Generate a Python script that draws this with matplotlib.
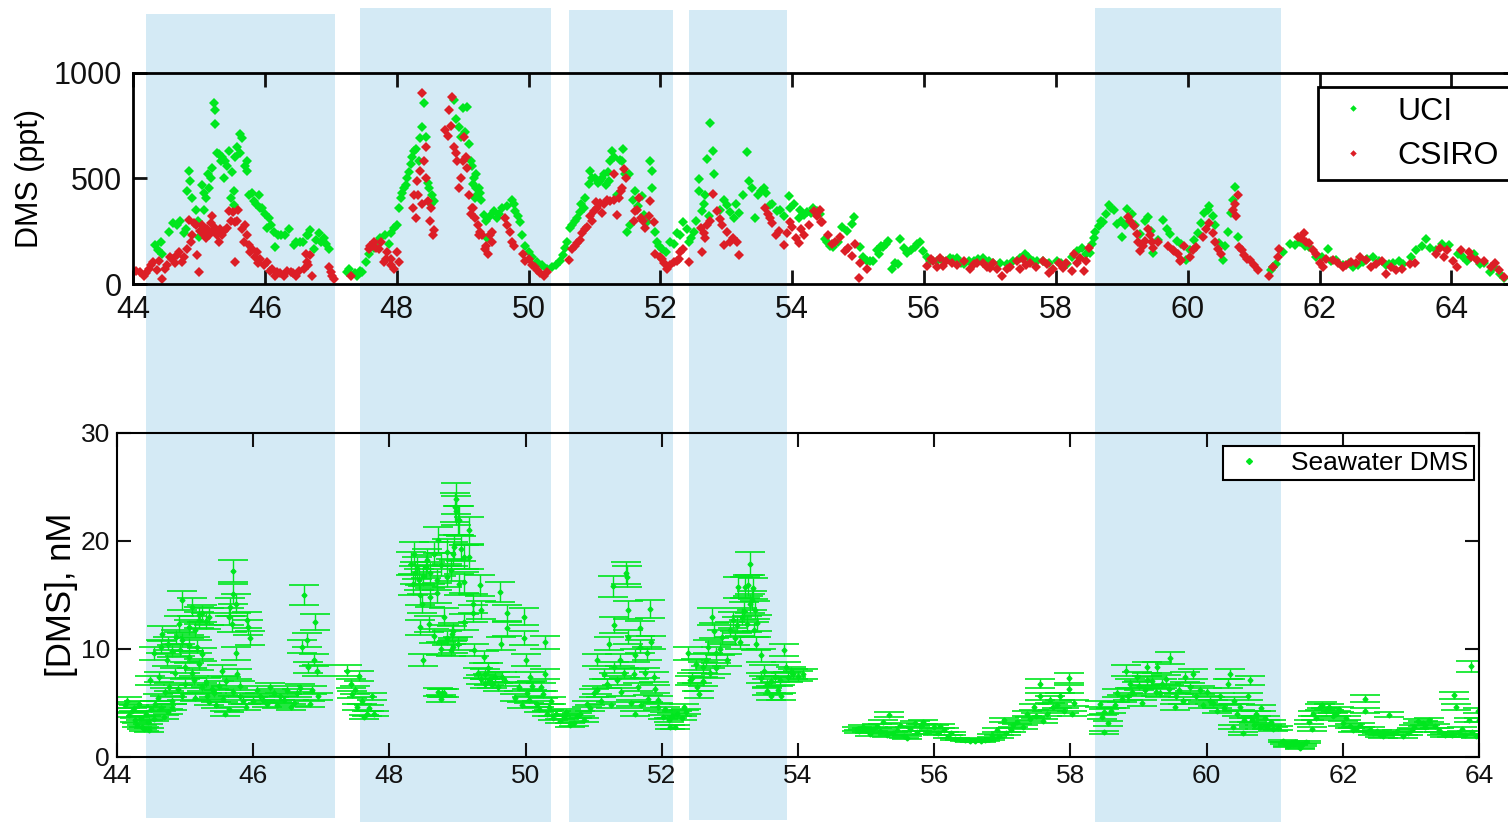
import matplotlib
matplotlib.use("Agg")
import matplotlib.pyplot as plt
from matplotlib.lines import Line2D
from matplotlib.patches import Rectangle
from matplotlib.transforms import blended_transform_factory

plt.rcParams['font.family'] = ['Liberation Sans', 'DejaVu Sans']

# --- top panel: atmospheric DMS (ppt) vs day of year ---
uci_day = [
    44.34, 44.44, 44.54, 44.67, 44.77, 44.85, 44.87, 44.90, 44.95, 45.00, 45.07, 45.11,
    45.15, 45.14, 45.20, 45.23, 45.25, 45.25, 45.30, 45.33, 45.38, 45.40, 45.45, 45.48,
    45.53, 45.55, 45.58, 45.63, 45.53, 45.73, 45.73, 45.76, 45.83, 45.91, 45.93, 46.06,
    46.03, 46.14, 46.16, 46.24, 46.44, 46.54, 46.64, 46.69, 46.74, 46.85, 46.90, 46.97,
    47.25, 47.40, 47.48, 47.53, 47.71, 47.83, 47.96, 48.01, 48.04, 48.06, 48.11, 48.16,
    48.21, 48.26, 48.34, 48.39, 48.42, 48.44, 48.49, 48.54, 48.57, 48.87, 48.94, 48.97,
    49.00, 49.07, 49.10, 49.12, 49.20, 49.25,
    49.16, 49.21, 49.26, 49.19, 49.32, 49.37, 49.47, 49.52, 49.75, 49.80, 49.87, 49.90,
    50.00, 50.13, 50.28, 50.41, 50.53, 50.58, 50.63, 50.73, 50.84, 50.86, 50.91, 50.94,
    51.01, 51.09, 51.14, 51.22, 51.24, 51.27, 51.34, 51.42, 51.44, 51.47, 51.49, 51.54,
    51.62, 51.72, 51.75, 51.80, 51.85, 51.87, 51.87, 51.92, 51.95, 52.03, 52.15, 52.30,
    52.35, 52.43, 52.51, 52.58, 52.58, 52.63, 52.68, 52.71, 52.75, 52.80, 52.82, 53.01,
    53.11, 53.19, 53.32, 53.34, 53.39, 53.44, 53.52, 53.57, 53.67, 53.77, 53.95, 53.97,
    54.10, 54.18, 54.28, 54.38, 54.53,
    54.50, 54.62, 54.83, 54.90, 54.93, 55.03, 55.13, 55.23, 55.31, 55.38, 55.46, 55.51,
    55.61, 55.64, 55.74, 55.86, 55.94, 55.99, 56.09, 56.29, 56.39, 56.50, 56.60, 56.75,
    56.90, 57.05, 57.26, 57.46, 57.53, 57.66, 57.81, 58.02, 58.17, 58.32, 58.52, 58.55,
    58.60, 58.65, 58.72, 58.80, 58.88, 58.93, 59.00, 59.08, 59.15, 59.28, 59.40, 59.48,
    59.63, 59.73, 59.84,
    59.97, 60.10, 60.15, 60.20, 60.25, 60.33, 60.38, 60.48, 60.53, 60.61, 60.66, 60.72,
    60.76, 61.27, 61.34, 61.62, 61.84, 61.95, 62.13, 62.25, 62.51, 62.66, 62.81, 63.06,
    63.27, 63.47, 63.62, 63.77, 63.97, 64.18, 64.43, 64.58, 64.73,
    44.38, 44.42, 44.60, 44.72, 44.80, 44.82, 44.98, 45.04, 45.08, 45.18, 45.28, 45.35,
    45.42, 45.50, 45.62, 45.66, 45.70, 45.80, 45.86, 45.96, 46.00, 46.10, 46.20, 46.30,
    46.36, 46.48, 46.58, 46.66, 46.78, 46.82, 46.93, 47.28, 47.36, 47.44, 47.58, 47.65,
    47.75, 47.88, 47.92, 48.08, 48.14, 48.18, 48.23, 48.30, 48.36, 48.47, 48.52, 48.90,
    49.04, 49.14, 49.17, 49.22, 49.28, 49.35, 49.42, 49.55, 49.60, 49.68, 49.78, 49.84,
    49.95, 50.05, 50.20, 50.35, 50.48, 50.56, 50.66, 50.70, 50.78, 50.80, 50.97, 51.05,
    51.12, 51.18, 51.20, 51.30, 51.38, 51.52, 51.58, 51.66, 51.78, 51.98, 52.08, 52.20,
    52.25, 52.40, 52.46, 52.54, 52.66, 52.74, 52.90, 52.97, 53.05, 53.15, 53.25, 53.48,
    53.60, 53.70, 53.82, 53.88, 54.02, 54.12, 54.22, 54.32, 54.42, 54.58, 54.70, 54.76,
    55.08, 55.18, 55.28, 55.34, 55.43, 55.56, 55.70, 55.80, 55.90, 56.04, 56.20, 56.44,
    56.56, 56.68, 56.82, 56.98, 57.15, 57.35, 57.58, 57.72, 57.90, 58.08, 58.25, 58.40,
    58.45, 58.58, 58.68, 58.76, 58.84, 58.98, 59.05, 59.20, 59.35, 59.45, 59.55, 59.68,
    59.90, 60.04, 60.30, 60.42, 60.57, 60.68, 61.30, 61.45, 61.55, 61.70, 61.78, 62.04,
    62.18, 62.36, 62.45, 62.58, 62.72, 62.90, 63.00, 63.12, 63.20, 63.38, 63.55, 63.68,
    63.86, 63.92, 64.10, 64.24, 64.34, 64.50, 64.64, 64.80,
]
uci_dms = [
    184, 144, 248, 280, 240, 536, 488, 408, 352, 224, 352, 408,
    456, 520, 552, 856, 824, 760, 616, 584, 504, 584, 632, 408,
    440, 600, 648, 712, 376, 584, 536, 424, 392, 424, 360, 312,
    264, 248, 176, 232, 184, 200, 232, 256, 168, 200, 216, 168,
    56, 40, 56, 104, 200, 232, 264, 280, 360, 408, 456, 504,
    568, 632, 584, 744, 856, 696, 456, 424, 392, 872, 744, 696,
    832, 840, 664, 584, 520, 456,
    472, 456, 432, 408, 328, 216, 344, 312, 400, 344, 296, 232,
    152, 104, 72, 88, 136, 200, 264, 312, 360, 408, 472, 536,
    504, 488, 520, 488, 584, 632, 424, 584, 640, 520, 248, 280,
    440, 416, 328, 296, 584, 536, 456, 248, 200, 168, 200, 232,
    296, 200, 248, 440, 496, 344, 424, 592, 763, 632, 520, 376,
    312, 336, 624, 488, 456, 312, 440, 456, 376, 344, 416, 360,
    312, 328, 336, 344, 200,
    213, 173, 253, 285, 317, 173, 109, 109, 141, 173, 205, 69,
    93, 213, 149, 173, 197, 157, 109, 109, 125, 125, 93, 109,
    125, 101, 93, 125, 141, 109, 109, 109, 93, 157, 149, 189,
    245, 277, 293, 373, 349, 285, 221, 357, 333, 237, 317, 149,
    301, 237, 205,
    112, 208, 240, 288, 336, 368, 320, 192, 112, 248, 336, 459,
    224, 64, 96, 184, 176, 128, 168, 112, 80, 104, 128, 96,
    96, 160, 213, 160, 184, 128, 96, 56, 48,
    160, 200, 290, 300, 260, 440, 300, 470, 430, 500, 620, 600,
    560, 530, 620, 690, 560, 430, 380, 360, 330, 280, 230, 230,
    260, 200, 200, 230, 210, 240, 190, 70, 50, 60, 140, 170,
    220, 190, 240, 430, 470, 530, 600, 640, 690, 480, 380, 780,
    720, 560, 500, 420, 400, 300, 320, 330, 360, 370, 380, 320,
    180, 130, 90, 80, 110, 170, 280, 300, 340, 380, 500, 480,
    500, 470, 530, 600, 590, 520, 400, 370, 300, 180, 150, 190,
    240, 260, 220, 300, 380, 320, 350, 400, 340, 380, 420, 420,
    430, 380, 350, 320, 380, 350, 340, 360, 330, 180, 200, 270,
    130, 110, 160, 180, 190, 100, 170, 160, 190, 130, 110, 120,
    100, 110, 120, 110, 100, 110, 130, 110, 100, 100, 130, 170,
    140, 220, 300, 330, 360, 300, 280, 280, 300, 250, 210, 260,
    190, 160, 350, 280, 180, 400, 80, 150, 190, 200, 180, 130,
    110, 90, 100, 90, 120, 110, 90, 100, 110, 130, 180, 170,
    190, 170, 140, 110, 140, 100, 80, 30,
]

csiro_day = [
    44.11, 44.16, 44.24, 44.31, 44.36, 44.44, 44.52, 44.59, 44.67, 44.74, 44.82, 44.85,
    44.90, 44.95, 44.97, 45.00, 45.05, 45.10, 45.15, 45.20, 45.25, 45.30, 45.35, 45.43,
    45.45, 45.55, 45.55, 45.60, 45.70, 45.76, 45.81, 45.88, 45.93, 46.03, 46.11, 46.19,
    46.29, 46.39, 46.47, 46.59, 46.64, 46.69, 46.72, 47.00, 47.05, 47.30, 47.58, 47.66,
    47.73, 47.81, 47.86, 47.91, 47.96, 48.04, 48.24, 48.26, 48.29, 48.31, 48.36, 48.39,
    48.42, 48.44, 48.47, 48.52, 48.57, 48.74, 48.79, 48.84, 48.87, 48.92, 48.95, 49.00,
    49.02, 49.07, 49.15, 49.25,
    49.16, 49.19, 49.24, 49.27, 49.34, 49.39, 49.44, 49.44, 49.65, 49.72, 49.75, 49.92,
    50.00, 50.05, 50.13, 50.23, 50.28, 50.61, 50.66, 50.73, 50.81, 50.89, 50.94, 50.99,
    51.04, 51.09, 51.11, 51.19, 51.24, 51.29, 51.34, 51.37, 51.42, 51.45, 51.62, 51.67,
    51.70, 51.77, 51.85, 51.90, 51.92, 52.03, 52.10, 52.20, 52.28, 52.35, 52.43, 52.61,
    52.63, 52.68, 52.71, 52.80, 52.86, 52.94, 52.96, 53.01, 53.06, 53.16, 53.19, 53.59,
    53.67, 53.75, 53.87, 53.97, 54.05, 54.10, 54.18, 54.33, 54.43,
    54.42, 54.45, 54.65, 54.72, 54.80, 54.90, 54.95, 55.03, 55.02, 55.13, 56.04, 56.14,
    56.24, 56.29, 56.42, 56.75, 56.90, 57.00, 57.10, 57.18, 57.26, 57.41, 57.61, 57.86,
    57.89, 58.11, 58.24, 58.27, 58.37, 58.42, 58.45, 59.10, 59.18, 59.23, 59.28, 59.35,
    59.40, 59.46, 59.79, 59.89,
    59.77, 59.90, 60.03, 60.13, 60.23, 60.33, 60.38, 60.46, 60.68, 60.73, 60.76, 60.78,
    60.86, 60.94, 61.06, 61.24, 61.37, 61.39, 61.67, 61.77, 61.84, 61.95, 62.05, 62.20,
    62.35, 62.48, 62.71, 62.86, 63.01, 63.16, 63.37, 63.77, 63.93, 64.08, 64.26, 64.39,
    64.72, 64.80,
    44.05, 44.20, 44.28, 44.40, 44.48, 44.56, 44.63, 44.70, 44.78, 44.88, 44.92, 45.02,
    45.08, 45.12, 45.18, 45.22, 45.28, 45.32, 45.38, 45.48, 45.52, 45.58, 45.65, 45.68,
    45.73, 45.78, 45.85, 45.90, 45.98, 46.08, 46.15, 46.23, 46.33, 46.43, 46.52, 46.62,
    46.66, 46.98, 47.02, 47.60, 47.68, 47.76, 47.84, 47.92, 48.00, 48.33, 48.38, 48.45,
    48.50, 48.55, 48.78, 48.82, 48.90, 48.97, 49.05, 49.10, 49.12, 49.30, 49.36, 49.42,
    49.68, 49.78, 49.95, 50.10, 50.18, 50.70, 50.78, 50.86, 50.96, 51.02, 51.14, 51.30,
    51.40, 51.48, 51.60, 51.65, 51.74, 51.82, 52.00, 52.06, 52.14, 52.25, 52.30, 52.66,
    52.75, 52.90, 53.10, 53.63, 53.70, 53.80, 53.92, 54.00, 54.14, 54.25, 54.38, 54.55,
    54.60, 54.85, 56.10, 56.20, 56.34, 56.50, 56.60, 56.70, 56.80, 56.95, 57.05, 57.30,
    57.45, 57.50, 57.55, 57.70, 57.80, 57.95, 58.05, 58.15, 58.32, 58.50, 59.12, 59.25,
    59.32, 59.43, 59.48, 59.55, 59.70, 59.85, 59.95, 60.08, 60.28, 60.42, 60.50, 60.72,
    60.82, 60.90, 61.00, 61.30, 61.72, 61.80, 61.90, 62.00, 62.10, 62.28, 62.40, 62.55,
    62.62, 62.78, 62.95, 63.08, 63.25, 63.45, 63.82, 63.88, 64.02, 64.15, 64.30, 64.50,
    64.60, 64.66,
]
csiro_dms = [
    56, 40, 72, 104, 64, 24, 88, 120, 136, 104, 168, 304,
    232, 280, 136, 56, 280, 216, 232, 320, 264, 200, 232, 264,
    344, 296, 104, 352, 280, 184, 168, 152, 120, 104, 72, 56,
    40, 56, 40, 72, 104, 136, 40, 56, 24, 40, 168, 200,
    168, 104, 152, 120, 72, 104, 360, 424, 312, 488, 536, 904,
    584, 648, 392, 360, 256, 728, 824, 888, 648, 584, 456, 584,
    696, 552, 360, 232,
    360, 312, 280, 248, 168, 144, 248, 200, 312, 248, 200, 144,
    120, 88, 64, 40, 56, 112, 168, 192, 240, 272, 320, 344,
    360, 384, 336, 400, 392, 520, 328, 408, 456, 544, 344, 408,
    312, 264, 392, 296, 144, 120, 72, 104, 120, 168, 104, 264,
    152, 216, 280, 427, 344, 280, 184, 248, 200, 200, 136, 360,
    312, 232, 184, 296, 216, 192, 232, 344, 296,
    349, 293, 197, 221, 157, 133, 189, 101, 29, 69, 85, 109,
    125, 85, 101, 93, 101, 77, 69, 37, 69, 109, 101, 93,
    53, 77, 61, 141, 125, 61, 109, 317, 277, 237, 157, 205,
    261, 197, 157, 109,
    160, 112, 128, 176, 224, 288, 240, 168, 352, 320, 424, 176,
    136, 112, 64, 40, 128, 168, 224, 240, 192, 144, 80, 112,
    80, 104, 112, 96, 48, 64, 96, 144, 160, 80, 152, 112,
    64, 32,
    60, 50, 90, 110, 70, 130, 100, 150, 130, 200, 290, 250,
    230, 260, 290, 250, 230, 260, 250, 300, 340, 300, 260, 200,
    230, 150, 130, 100, 90, 60, 40, 50, 60, 50, 60, 140,
    90, 80, 40, 180, 170, 200, 120, 90, 150, 420, 380, 500,
    300, 230, 700, 750, 620, 500, 600, 420, 330, 230, 180, 230,
    280, 180, 110, 80, 50, 180, 210, 260, 300, 390, 380, 400,
    440, 500, 300, 350, 300, 320, 130, 100, 90, 110, 150, 240,
    300, 310, 220, 330, 290, 250, 240, 270, 260, 280, 320, 230,
    190, 170, 120, 80, 110, 90, 110, 70, 100, 80, 100, 80,
    70, 120, 90, 80, 110, 70, 100, 100, 100, 170, 300, 200,
    180, 230, 170, 200, 180, 140, 180, 160, 260, 200, 140, 380,
    160, 120, 90, 80, 220, 200, 160, 100, 120, 100, 90, 100,
    130, 80, 110, 80, 70, 100, 170, 130, 110, 160, 130, 110,
    80, 100,
]

# --- bottom panel: seawater DMS (nM) ---
sw_day = [
    44.15, 44.22, 44.27, 44.32, 44.37, 44.42, 44.47, 44.49, 44.54, 44.56, 44.61, 44.64,
    44.66, 44.69, 44.73, 44.76, 44.81, 44.86, 44.91, 44.93, 44.95, 45.00, 45.05, 45.10,
    45.13, 45.17, 45.20, 45.25, 45.32, 45.42, 45.54, 45.59, 45.64, 45.66, 45.69, 45.71,
    45.71, 45.74, 45.74, 45.76, 45.81, 45.91, 45.93, 45.96, 46.00, 46.10, 46.20, 46.30,
    46.40, 46.50, 46.55, 46.64, 46.72, 46.75, 46.79, 46.81, 46.84, 46.86, 46.89, 46.91,
    46.94, 47.37, 47.43, 47.50, 47.52, 47.62, 47.67, 47.74, 47.77,
    48.31, 48.36, 48.38, 48.43, 48.45, 48.48, 48.50, 48.53, 48.58, 48.60, 48.65, 48.70,
    48.72, 48.75, 48.77, 48.80, 48.85, 48.90, 48.92, 48.94, 48.97, 48.98, 49.02,
    48.98, 49.00, 48.95, 49.10, 49.17, 49.17, 49.02, 48.93, 48.93, 49.22, 49.22, 49.24,
    49.33, 49.34, 49.39, 49.41, 49.46, 49.51, 49.63, 49.66, 49.64, 49.73, 49.73, 49.98,
    49.98, 50.00, 50.02, 50.07, 50.17, 50.22, 50.29, 50.29, 50.32, 50.37, 50.44, 50.56,
    50.71, 50.80, 50.90, 51.00, 51.05, 51.15, 51.22, 51.28, 51.30, 51.34, 51.39, 51.48,
    51.49, 51.50, 51.51, 51.59, 51.61, 51.68, 51.68, 51.78, 51.83, 51.84, 51.88, 51.95,
    52.02, 52.12, 52.22, 52.32, 52.39, 52.41, 52.51, 52.61, 52.68, 52.73, 52.76, 52.80,
    52.88, 53.05, 53.07, 53.12, 53.17, 53.22, 53.26, 53.29, 53.32, 53.34, 53.37, 53.39,
    53.46, 53.54, 53.61, 53.66, 53.73, 53.80, 53.83, 53.93, 54.07,
    54.86, 55.01, 55.16, 55.33, 55.40, 55.55, 55.72, 55.84, 55.99, 56.09, 56.24, 56.38,
    56.53, 56.68, 56.82, 56.92, 57.02, 57.12, 57.22, 57.36, 57.46, 57.55, 57.56, 57.66,
    57.75, 57.85, 57.98, 57.98, 58.02, 58.44, 58.47, 58.49, 58.59, 58.69, 58.81, 58.88,
    58.98, 59.13, 59.27,
    59.12, 59.32, 59.46, 59.54, 59.68, 59.80, 59.90, 60.05, 60.15, 60.32, 60.34, 60.39,
    60.49, 60.54, 60.63, 60.66, 60.73, 60.78, 60.88, 60.98, 61.12, 61.27, 61.37, 61.46,
    61.56, 61.66, 61.76, 61.90, 62.00, 62.15, 62.32, 62.32, 62.44, 62.59, 62.68, 62.73,
    62.88, 63.02, 63.17, 63.27, 63.41, 63.63, 63.66, 63.71, 63.85, 63.88, 63.95, 64.00,
    44.12, 44.18, 44.25, 44.30, 44.35, 44.40, 44.45, 44.50, 44.55, 44.60, 44.65, 44.70,
    44.75, 44.80, 44.85, 44.90, 44.95, 45.00, 45.05, 45.10, 45.15, 45.20, 45.25, 45.30,
    45.35, 45.40, 45.45, 45.50, 45.55, 45.60, 45.65, 45.70, 45.80, 45.85, 45.90, 46.05,
    46.15, 46.25, 46.35, 46.45, 46.60, 46.68, 46.95, 47.45, 47.55, 47.70, 47.60,
    44.75, 44.80, 44.95, 45.05, 45.15, 45.20, 45.25, 45.30, 45.35,
    48.35, 48.40, 48.45, 48.50, 48.55, 48.60, 48.70, 48.75, 48.80, 48.85, 48.90, 49.05,
    49.10, 48.75, 48.72, 48.85, 49.00, 49.10, 48.65,
    49.30, 49.35, 49.40, 49.45, 49.55, 49.60, 49.70, 49.85, 49.90, 49.95, 50.05, 50.10,
    50.20, 50.25, 50.35, 50.40,
    50.50, 50.60, 50.65, 50.75, 50.85, 50.95, 51.05, 51.10, 51.20, 51.25, 51.30, 51.40,
    51.45, 51.55, 51.60, 51.65, 51.70, 51.75, 51.80, 51.90, 51.95, 52.05, 52.10, 52.15,
    52.20, 52.30, 52.35,
    52.45, 52.50, 52.55, 52.60, 52.65, 52.70, 52.80, 52.85, 52.95, 53.00, 53.10, 53.15,
    53.20, 53.25, 53.30, 53.35, 53.40, 53.45, 53.50, 53.55, 53.60, 53.70, 53.75, 53.85,
    53.90, 54.00,
    54.90, 54.95, 55.05, 55.10, 55.20, 55.25, 55.30, 55.45, 55.50, 55.60, 55.65, 55.75,
    55.80, 55.90, 56.05, 56.15, 56.20, 56.30, 56.45, 56.60, 56.75, 56.85, 56.95, 57.05,
    57.15, 57.30, 57.40, 57.50, 57.60, 57.70, 57.80, 57.90, 58.05,
    58.50, 58.55, 58.65, 58.75, 58.85, 58.90, 59.00, 59.05, 59.10, 59.20, 59.25, 59.35,
    59.40, 59.45, 59.55, 59.60, 59.65, 59.75, 59.85, 59.95, 60.00, 60.10, 60.20, 60.25,
    60.40, 60.45, 60.55, 60.60, 60.70, 60.80, 60.85, 60.95, 61.05,
    61.15, 61.20, 61.30, 61.40, 61.50, 61.55, 61.60, 61.70, 61.80, 61.85, 61.95, 62.05,
    62.10, 62.20, 62.25, 62.40, 62.50, 62.55, 62.65, 62.80, 62.95, 63.05, 63.10, 63.20,
    63.35, 63.45, 63.50, 63.60, 63.75, 63.80, 63.90, 63.98,
]
sw_dms = [
    5.2, 4.3, 3.4, 4.9, 2.8, 4.0, 2.5, 7.1, 9.6, 4.9, 7.4, 10.2,
    11.4, 3.7, 9.0, 6.5, 4.6, 11.1, 12.3, 9.9, 14.5, 8.3, 12.0, 13.9,
    7.1, 10.2, 12.7, 6.5, 5.6, 5.9, 8.0, 4.0, 13.0, 13.9, 12.3, 17.2,
    15.1, 14.2, 9.6, 7.7, 5.6, 12.7, 12.0, 11.0, 5.2, 5.6, 4.9, 5.9,
    5.6, 6.2, 4.6, 5.9, 10.2, 15.0, 10.8, 8.3, 4.9, 6.2, 9.0, 12.5,
    8.0, 8.0, 6.8, 6.2, 4.6, 3.7, 4.0, 5.6, 4.0,
    17.9, 18.8, 17.0, 16.4, 12.0, 14.2, 9.0, 17.6, 12.3, 14.8, 18.8, 16.4,
    20.1, 10.0, 5.9, 5.9, 16.7, 9.9, 11.4, 18.8, 23.1, 23.9, 21.9,
    22.8, 21.9, 19.4, 18.5, 21.0, 18.5, 16.0, 11.7, 10.2, 14.2, 13.3, 9.9,
    15.9, 13.6, 9.3, 7.7, 7.1, 6.8, 15.3, 7.4, 10.5, 13.3, 11.9, 13.0,
    11.0, 9.0, 5.9, 7.4, 4.9, 6.5, 10.6, 7.7, 4.0, 5.2, 4.0, 3.7,
    3.1, 4.0, 4.9, 5.9, 9.0, 7.7, 10.5, 15.8, 12.2, 7.1, 9.0, 17.0,
    16.7, 13.6, 11.1, 7.7, 4.0, 11.9, 10.2, 9.6, 13.7, 10.6, 7.4, 4.6,
    3.7, 2.8, 4.0, 4.6, 9.6, 7.1, 6.5, 8.3, 10.2, 13.0, 11.7, 9.6,
    11.1, 12.7, 11.0, 15.7, 13.0, 15.7, 15.9, 17.9, 14.5, 15.6, 13.6, 10.5,
    9.4, 6.8, 5.6, 7.4, 7.1, 9.9, 8.3, 7.7, 7.7,
    2.6, 2.5, 2.9, 3.9, 2.2, 1.9, 3.1, 3.2, 2.8, 2.9, 2.2, 1.7,
    1.5, 1.5, 1.7, 2.5, 3.4, 2.5, 3.2, 4.0, 4.6, 6.8, 5.6, 4.0,
    4.6, 5.6, 7.3, 6.3, 4.0, 4.9, 3.7, 2.3, 4.3, 5.9, 8.0, 6.8,
    7.4, 8.3, 8.3,
    7.1, 5.9, 9.2, 4.6, 7.4, 7.7, 6.2, 5.2, 4.3, 6.8, 7.7, 2.8,
    4.6, 2.2, 7.1, 3.4, 4.0, 2.8, 2.8, 2.6, 1.5, 1.2, 0.8, 1.4,
    4.0, 4.6, 4.3, 4.0, 3.1, 2.5, 5.4, 4.3, 2.2, 1.9, 3.9, 2.2,
    1.9, 2.5, 3.1, 3.4, 2.5, 5.7, 4.6, 2.2, 3.4, 8.4, 1.9, 3.4,
    4.8, 3.9, 4.5, 3.0, 3.6, 2.6, 3.2, 4.4, 3.5, 5.5, 4.5, 6.0,
    4.2, 5.2, 7.8, 6.3, 5.6, 6.8, 9.3, 7.8, 5.5, 8.6, 9.5, 6.9,
    5.1, 6.3, 4.8, 6.6, 5.4, 7.0, 4.4, 6.0, 6.6, 5.2, 4.6, 6.2,
    5.3, 6.5, 4.8, 5.3, 5.0, 6.4, 5.6, 5.8, 7.5, 4.5, 5.2,
    10.5, 9.8, 10.8, 10.4, 11.8, 13.1, 13.3, 12.6, 13.0,
    16.0, 17.5, 15.0, 16.8, 18.2, 17.0, 15.2, 17.8, 13.0, 19.0, 17.3, 19.3,
    16.2, 5.4, 6.0, 11.0, 10.5, 12.5, 11.2,
    7.8, 7.2, 6.8, 8.2, 7.4, 6.5, 7.0, 5.5, 6.5, 4.8, 5.3, 6.6,
    4.4, 5.8, 4.6, 3.6,
    3.3, 4.2, 3.0, 3.8, 3.4, 4.5, 6.2, 5.2, 6.8, 4.8, 8.3, 6.0,
    7.8, 5.0, 9.4, 6.5, 4.8, 7.8, 5.4, 6.3, 5.3, 4.4, 3.4, 3.8,
    2.8, 3.6, 4.2,
    7.3, 8.6, 5.8, 7.0, 9.0, 7.8, 8.2, 10.0, 9.0, 11.8, 12.2, 10.6,
    13.5, 12.3, 14.2, 11.8, 12.4, 7.3, 8.0, 6.1, 7.0, 6.2, 5.6, 7.4,
    7.9, 7.5,
    2.4, 2.8, 2.1, 2.6, 2.4, 3.2, 2.0, 2.5, 3.0, 1.8, 2.6, 2.3,
    2.9, 2.3, 2.2, 2.5, 1.9, 1.7, 1.6, 1.5, 1.6, 2.0, 1.9, 2.2,
    3.0, 2.8, 3.5, 3.8, 3.3, 5.3, 4.8, 4.3, 5.0,
    4.2, 3.1, 4.8, 5.4, 5.6, 6.0, 6.6, 5.0, 6.2, 7.0, 6.0, 6.8,
    7.2, 6.3, 5.6, 6.2, 5.2, 6.5, 5.6, 4.8, 6.0, 5.0, 5.6, 4.5,
    5.2, 4.0, 3.4, 5.6, 3.0, 4.5, 3.6, 3.2, 2.7,
    1.3, 1.0, 1.4, 1.1, 3.2, 2.6, 3.6, 4.8, 4.6, 3.8, 4.4, 3.6,
    2.9, 2.6, 3.0, 2.6, 2.4, 2.0, 2.2, 2.4, 2.2, 2.8, 3.3, 2.8,
    2.9, 2.2, 2.0, 2.0, 2.6, 2.0, 2.3, 4.3,
]
REL_ERR = 0.06

# shaded periods (day of year)
shade_start = [44.2, 47.45, 50.61, 52.43, 58.6]
shade_end = [47.06, 50.34, 52.19, 53.92, 61.42]

GREEN = '#00e61e'
RED = '#dc1e26'
SHADE = '#d4eaf5'

fig = plt.figure(figsize=(15.08, 8.22), dpi=100)
ax1 = fig.add_axes([0.0882, 0.6545, 0.918, 0.2567])
ax2 = fig.add_axes([0.0776, 0.0791, 0.9032, 0.3942])

for ax in (ax1, ax2):
    ax.set_facecolor('none')
    ax.tick_params(direction='in', top=True, right=True, colors='#111111')

# top panel
ax1.plot(uci_day, uci_dms, linestyle='none', marker='D', markersize=5.5,
         markeredgewidth=0, color=GREEN, label='UCI')
ax1.plot(csiro_day, csiro_dms, linestyle='none', marker='D', markersize=5.5,
         markeredgewidth=0, color=RED, label='CSIRO')
ax1.set_xlim(44, 65)
ax1.set_ylim(0, 1000)
ax1.set_xticks(range(44, 65, 2))
ax1.set_yticks([0, 500, 1000])
ax1.tick_params(labelsize=22, length=10, width=2, pad=8)
ax1.set_ylabel('DMS (ppt)', fontsize=22, labelpad=6)
for s in ax1.spines.values():
    s.set_linewidth(2)
leg1 = ax1.legend(loc='upper left', bbox_to_anchor=(0.856, 0.934), borderaxespad=0,
                  fontsize=23, markerscale=0.6, fancybox=False, framealpha=1,
                  edgecolor='black', handletextpad=0.6, borderpad=0.3,
                  labelspacing=0.45, handlelength=1.6)
leg1.get_frame().set_linewidth(2)

# bottom panel
sw_err = [REL_ERR * v for v in sw_dms]
ax2.errorbar(sw_day, sw_dms, yerr=sw_err, fmt='D', markersize=2.5, color=GREEN,
             ecolor=GREEN, elinewidth=1, capsize=11, capthick=1.2)
ax2.set_xlim(44, 64)
ax2.set_ylim(0, 30)
ax2.set_xticks(range(44, 65, 2))
ax2.set_yticks([0, 10, 20, 30])
ax2.tick_params(labelsize=19, length=10, width=1.5, pad=5)
ax2.set_ylabel('[DMS], nM', fontsize=25, labelpad=2)
for s in ax2.spines.values():
    s.set_linewidth(1.5)
sw_handle = Line2D([], [], linestyle='none', marker='D', markersize=3, color=GREEN)
leg2 = ax2.legend([sw_handle], ['Seawater DMS'], loc='upper right',
                  bbox_to_anchor=(0.996, 0.96), borderaxespad=0, fontsize=19,
                  fancybox=False, framealpha=1, edgecolor='black',
                  handletextpad=0.8, borderpad=0.2, handlelength=1.6)
leg2.get_frame().set_linewidth(1.5)

# shading spanning both panels
shade_top = [0.983, 0.990, 0.988, 0.988, 0.990]
shade_bot = [0.005, 0.0, 0.0, 0.002, 0.0]
trans = blended_transform_factory(ax1.transData, fig.transFigure)
for x0, x1, yt, yb in zip(shade_start, shade_end, shade_top, shade_bot):
    fig.add_artist(Rectangle((x0, yb), x1 - x0, yt - yb, transform=trans,
                             facecolor=SHADE, edgecolor='none', zorder=-5))

fig.savefig('out.png', dpi=100)
